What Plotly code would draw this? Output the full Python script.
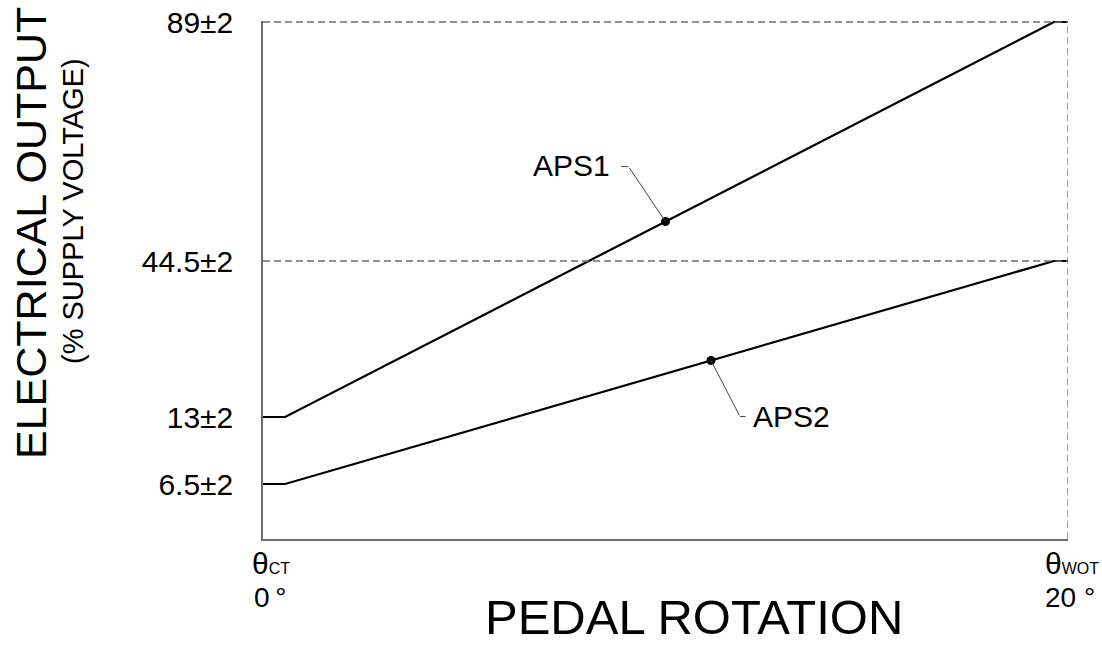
import numpy as np
import plotly.graph_objects as go

# ---------------- data ----------------
levels = [6.5, 13, 44.5, 89]                       # % supply voltage (nominal)
level_labels = ["6.5±2", "13±2", "44.5±2", "89±2"]
angle = [0, 0.55, 19.65, 20]                        # pedal rotation, degrees
aps1 = [13, 13, 89, 89]
aps2 = [6.5, 6.5, 44.5, 44.5]
marker_angle_aps1 = 10.0
marker_angle_aps2 = 11.13

# ---------------- layout constants ----------------
W, H = 1102, 645
ML, MR, MT, MB = 263, 34, 21, 106
PW, PH = W - ML - MR, H - MT - MB
# schematic (non-linear) vertical placement of the nominal levels
LEVEL_DISPLAY = [55, 122, 278, 517]
YR = [0, PH]

FONT = "Liberation Sans, Arial, Helvetica, sans-serif"
GRAY = "#6e6e6e"


def sy(v):
    return np.interp(v, levels, LEVEL_DISPLAY)


def px(x):
    return (x - ML) / PW


def py(y):
    return (H - MB - y) / PH


fig = go.Figure()

for a, s in ((angle, aps1), (angle, aps2)):
    fig.add_trace(go.Scatter(x=a, y=sy(s), mode="lines",
                             line=dict(color="black", width=2.2),
                             hoverinfo="skip", showlegend=False))

m1y = float(np.interp(marker_angle_aps1, angle, sy(aps1)))
m2y = float(np.interp(marker_angle_aps2, angle, sy(aps2)))
fig.add_trace(go.Scatter(x=[marker_angle_aps1, marker_angle_aps2], y=[m1y, m2y],
                         mode="markers", marker=dict(color="black", size=9),
                         hoverinfo="skip", showlegend=False, cliponaxis=False))

dash = "7px,4px"
shapes = [
    dict(type="line", xref="x", yref="y", x0=0, x1=20, y0=sy(89), y1=sy(89),
         line=dict(color=GRAY, width=1.3, dash=dash)),
    dict(type="line", xref="x", yref="y", x0=0, x1=20, y0=sy(44.5), y1=sy(44.5),
         line=dict(color=GRAY, width=1.3, dash=dash)),
    dict(type="line", xref="x", yref="paper", x0=20, x1=20, y0=0, y1=1,
         line=dict(color=GRAY, width=1.3, dash=dash)),
]

ann = []
LC = "#444444"
# APS1 leader
ann.append(dict(x=marker_angle_aps1, y=m1y, xref="x", yref="y", text="",
                showarrow=True, arrowhead=0, arrowwidth=1, arrowcolor=LC,
                ax=-37, ay=-55, standoff=0))
ann.append(dict(x=marker_angle_aps1, y=m1y, xref="x", yref="y", text="",
                showarrow=True, arrowhead=0, arrowwidth=1, arrowcolor=LC,
                ax=-9, ay=0, xshift=-37, yshift=55, standoff=0))
ann.append(dict(x=marker_angle_aps1, y=m1y, xref="x", yref="y", text="APS1",
                showarrow=False, xanchor="right", yanchor="middle",
                xshift=-54, yshift=56, font=dict(size=30, color="black", family=FONT)))
# APS2 leader
ann.append(dict(x=marker_angle_aps2, y=m2y, xref="x", yref="y", text="",
                showarrow=True, arrowhead=0, arrowwidth=1, arrowcolor=LC,
                ax=29, ay=56, standoff=0))
ann.append(dict(x=marker_angle_aps2, y=m2y, xref="x", yref="y", text="",
                showarrow=True, arrowhead=0, arrowwidth=1, arrowcolor=LC,
                ax=7, ay=0, xshift=29, yshift=-56, standoff=0))
ann.append(dict(x=marker_angle_aps2, y=m2y, xref="x", yref="y", text="APS2",
                showarrow=False, xanchor="left", yanchor="middle",
                xshift=40, yshift=-56, font=dict(size=30, color="black", family=FONT)))

# axis titles
ann.append(dict(x=px(31), y=py(233), xref="paper", yref="paper", text="ELECTRICAL OUTPUT",
                textangle=-90, showarrow=False, xanchor="center", yanchor="middle",
                font=dict(size=43, color="black", family=FONT)))
ann.append(dict(x=px(73), y=py(211), xref="paper", yref="paper", text="(% SUPPLY VOLTAGE)",
                textangle=-90, showarrow=False, xanchor="center", yanchor="middle",
                font=dict(size=29, color="black", family=FONT)))
ann.append(dict(x=px(694), y=py(617), xref="paper", yref="paper", text="PEDAL ROTATION",
                showarrow=False, xanchor="center", yanchor="middle",
                font=dict(size=49, color="black", family=FONT)))

# x-end labels
ann.append(dict(x=px(250), y=py(563), xref="paper", yref="paper",
                text="θ<span style='font-size:16px'>CT</span>",
                showarrow=False, xanchor="left", yanchor="middle",
                font=dict(size=30, color="black", family=FONT)))
ann.append(dict(x=px(252), y=py(597), xref="paper", yref="paper", text="0\u2009°",
                showarrow=False, xanchor="left", yanchor="middle",
                font=dict(size=28, color="black", family=FONT)))
ann.append(dict(x=px(1101), y=py(563), xref="paper", yref="paper",
                text="θ<span style='font-size:16px'>WOT</span>",
                showarrow=False, xanchor="right", yanchor="middle",
                font=dict(size=30, color="black", family=FONT)))
ann.append(dict(x=px(1097), y=py(597), xref="paper", yref="paper", text="20 °",
                showarrow=False, xanchor="right", yanchor="middle",
                font=dict(size=28, color="black", family=FONT)))

fig.update_layout(
    width=W, height=H,
    margin=dict(l=ML, r=MR, t=MT, b=MB, pad=0, autoexpand=False),
    paper_bgcolor="white", plot_bgcolor="white",
    shapes=shapes, annotations=ann,
    xaxis=dict(range=[0, 20], showgrid=False, zeroline=False, showticklabels=False,
               ticks="", showline=True, linecolor=GRAY, linewidth=1.5, fixedrange=True,
               automargin=False),
    yaxis=dict(range=YR, showgrid=False, zeroline=False,
               tickvals=list(sy(levels)), ticktext=level_labels,
               tickfont=dict(size=30, color="black", family=FONT),
               ticks="", ticklabelstandoff=22, automargin=False,
               showline=True, linecolor=GRAY, linewidth=1.5, fixedrange=True),
    font=dict(family=FONT, color="black"),
)

fig.write_html(
    "out.html",
    config={"displayModeBar": False},
    post_script="document.body.style.margin='0px';document.body.style.padding='0px';"
                "document.body.style.overflow='hidden';",
)
